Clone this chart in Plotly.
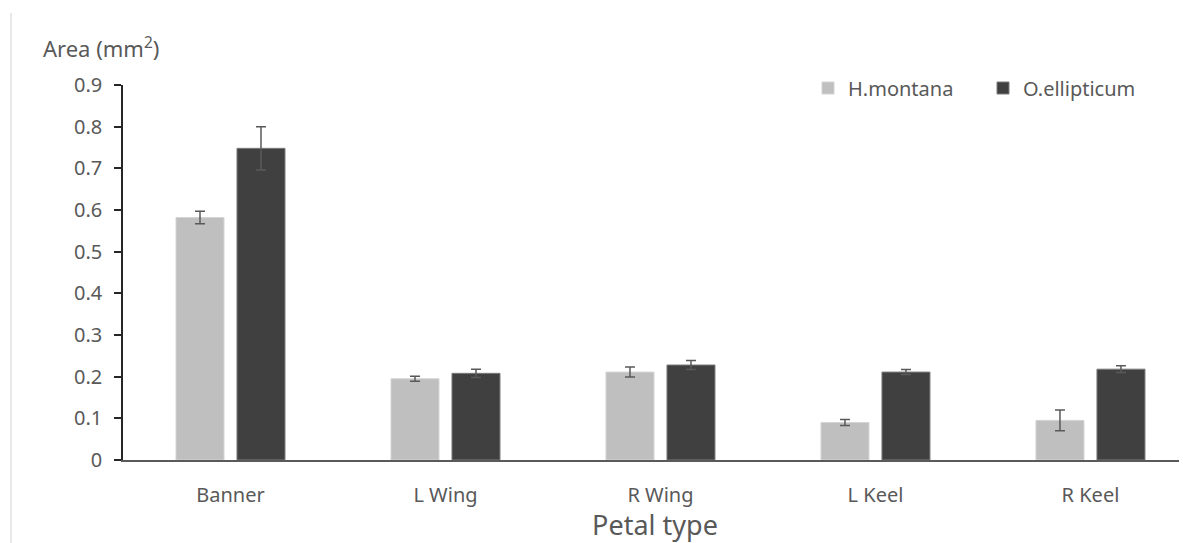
import plotly.graph_objects as go

categories = ["Banner", "L Wing", "R Wing", "L Keel", "R Keel"]
h_montana = [0.582, 0.195, 0.211, 0.090, 0.095]
h_montana_err = [0.015, 0.006, 0.012, 0.007, 0.025]
o_ellipticum = [0.748, 0.208, 0.228, 0.211, 0.218]
o_ellipticum_err = [0.052, 0.010, 0.011, 0.006, 0.008]

FONT = "Noto Sans"
TXT = "#595959"

# page has an 8px body offset; figure is sized so the plot area lands at
# x 123..1187, y 85..460 in the page
W, H = 1179, 535
ML, MT, MB = 115, 77, 83
PW = W - ML
PH = H - MT - MB


def px(x):
    return (x - 123) / PW


def py(y):
    return (460 - y) / PH


fig = go.Figure()
fig.add_trace(go.Bar(
    name="H.montana", x=categories, y=h_montana, legend="legend",
    marker=dict(color="#bfbfbf", line=dict(color="#d4d4d4", width=1)),
    error_y=dict(type="data", array=h_montana_err, color="#595959", thickness=1.5, width=5),
))
fig.add_trace(go.Bar(
    name="O.ellipticum", x=categories, y=o_ellipticum, legend="legend2",
    marker=dict(color="#404040", line=dict(color="#7a7a7a", width=1)),
    error_y=dict(type="data", array=o_ellipticum_err, color="#595959", thickness=1.5, width=5),
))

legend_common = dict(orientation="h", yanchor="middle", xanchor="left",
                     font=dict(size=20, color=TXT, family=FONT),
                     bgcolor="rgba(0,0,0,0)", itemwidth=30)

fig.update_layout(
    width=W, height=H,
    margin=dict(l=ML, r=0, t=MT, b=MB),
    plot_bgcolor="white", paper_bgcolor="white",
    barmode="group", bargap=0.4326, bargroupgap=0.213,
    font=dict(family=FONT, color=TXT, size=18),
    showlegend=True,
    legend=dict(x=px(808), y=py(88), **legend_common),
    legend2=dict(x=px(983), y=py(88), **legend_common),
    xaxis=dict(
        range=[-0.5, 4.449], showline=True, linecolor="#5a5a5a", linewidth=1.5,
        ticks="", showgrid=False, zeroline=False, ticklabelstandoff=16,
        tickfont=dict(size=20, color=TXT, family=FONT),
        title=dict(text="Petal type", font=dict(size=27, color=TXT, family=FONT), standoff=5),
    ),
    yaxis=dict(
        range=[0, 0.9], dtick=0.1, showline=True, linecolor="#262626", linewidth=1.5,
        ticks="outside", ticklen=7, tickwidth=1.5, tickcolor="#262626",
        showgrid=False, zeroline=False, tickformat="~g", ticklabelstandoff=8,
        tickfont=dict(size=20, color=TXT, family=FONT),
    ),
    annotations=[dict(
        text="Area (mm<sup>2</sup>)", xref="paper", yref="paper",
        x=px(41), y=py(48), xanchor="left", yanchor="middle", showarrow=False,
        font=dict(size=22, color=TXT, family=FONT),
    )],
    shapes=[dict(
        type="line", xref="paper", yref="paper",
        x0=px(11), x1=px(11), y0=py(543), y1=py(13),
        line=dict(color="#d0d0d0", width=1),
    )],
)

fig.write_html("out.html")
